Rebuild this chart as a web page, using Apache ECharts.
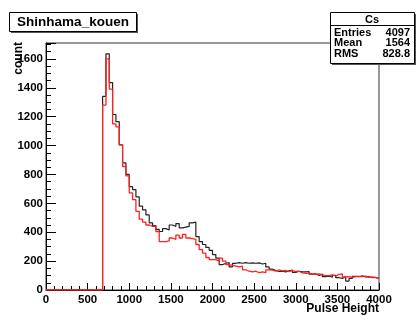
<!DOCTYPE html>
<html>
<head>
<meta charset="utf-8">
<script src="https://cdn.jsdelivr.net/npm/echarts@6.0.0/dist/echarts.min.js"></script>
<style>
  html, body { margin: 0; padding: 0; background: #fff; }
  #chart { width: 417px; height: 315px; }
</style>
</head>
<body>
<div id="chart"></div>
<script>
// histogram: 100 bins of 40 over 0..4000
const binStart = 0;
const binWidth = 40;
const blackCounts = [
    0, 0, 0, 0, 0, 0, 0, 0, 0, 0, 0, 0, 0, 0, 0, 0, 0,
    1340, 1635, 1435, 1215, 1165, 1005, 880, 800, 715, 695,
    645, 580, 555, 520, 465, 445, 420, 405, 425, 415,
    450, 440, 460, 430, 435, 440, 465, 470, 370, 335,
    315, 295, 275, 245, 220, 175, 185, 190, 160, 185,
    190, 185, 190, 185, 188, 185, 188, 180, 185, 160,
    145, 135, 128, 130, 125, 132, 138, 122, 130, 125,
    125, 128, 110, 112, 100, 110, 92, 95, 88, 102,
    85, 80, 92, 62, 80, 95, 92, 98, 90, 92,
    85, 88, 80
];
const redCounts = [
    0, 0, 0, 0, 0, 0, 0, 0, 0, 0, 0, 0, 0, 0, 0, 0, 0,
    1280, 1600, 1390, 1150, 1130, 1005, 855, 790, 672, 625,
    545, 490, 470, 450, 440, 440, 405, 335, 335, 340,
    360, 350, 380, 360, 385, 360, 355, 350, 315, 280,
    255, 225, 210, 210, 200, 220, 200, 175, 170, 165,
    160, 165, 140, 130, 125, 130, 120, 125, 120, 140,
    138, 130, 140, 132, 135, 128, 135, 128, 130, 118,
    115, 116, 112, 108, 112, 104, 100, 100, 105, 95,
    108, 112, 90, 92, 88, 92, 95, 92, 96, 88,
    90, 85, 78
];
const statsTitle = 'Cs';
const statsRows = [['Entries', '4097'], ['Mean', '1564'], ['RMS', '828.8']];

// 把每个bin的左边界和计数变成阶梯线的点
function toSteps(counts) {
    let pts = counts.map((c, i) => [binStart + i * binWidth, c]);
    pts.push([binStart + counts.length * binWidth, counts[counts.length - 1]]);
    return pts;
}

const labelFont = {
    color: '#000', fontWeight: 'bold', fontSize: 11.5, fontFamily: 'Liberation Sans',
    formatter: v => String(v)
};

let myChart = echarts.init(document.getElementById('chart'));
let option = {
    animation: false,
    grid: {
        left: 46, right: 38, top: 43, bottom: 25,
        show: true, borderColor: '#333', borderWidth: 1
    },
    xAxis: {
        type: 'value', min: 0, max: 4000, interval: 500,
        axisLine: { lineStyle: { color: '#000', width: 1 } },
        axisTick: { inside: true, length: 7, lineStyle: { color: '#000' } },
        minorTick: { show: true, splitNumber: 5, length: 4, lineStyle: { color: '#000' } },
        splitLine: { show: false },
        axisLabel: Object.assign({ margin: 4 }, labelFont)
    },
    yAxis: {
        type: 'value', min: 0, max: 1710, interval: 200,
        axisLine: { show: true, lineStyle: { color: '#000', width: 1 } },
        axisTick: { show: true, inside: true, length: 10, lineStyle: { color: '#000' } },
        minorTick: { show: true, splitNumber: 4, length: 5, lineStyle: { color: '#000' } },
        splitLine: { show: false },
        axisLabel: Object.assign({ margin: 3, showMaxLabel: false }, labelFont)
    },
    series: [
        {
            name: 'black', type: 'line', step: 'end', showSymbol: false,
            lineStyle: { color: '#222', width: 1.2 },
            data: toSteps(blackCounts)
        },
        {
            name: 'red', type: 'line', step: 'end', showSymbol: false,
            lineStyle: { color: '#ff2020', width: 1.3 },
            data: toSteps(redCounts)
        }
    ],
    graphic: [
        // 标题框
        { type: 'rect', shape: { x: 11, y: 14, width: 127, height: 19 }, style: { fill: '#555' }, z: 10 },
        { type: 'rect', shape: { x: 9.5, y: 12.5, width: 127, height: 19 }, style: { fill: '#fff', stroke: '#000', lineWidth: 1 }, z: 11 },
        { type: 'text', x: 73, y: 22, z: 12,
          style: { text: 'Shinhama_kouen', fill: '#000', font: 'bold 13.5px "Liberation Sans"', align: 'center', verticalAlign: 'middle' } },
        // 统计框
        { type: 'rect', shape: { x: 332, y: 14, width: 84, height: 51 }, style: { fill: '#555' }, z: 10 },
        { type: 'rect', shape: { x: 330.5, y: 12.5, width: 84, height: 51 }, style: { fill: '#fff', stroke: '#000', lineWidth: 1 }, z: 11 },
        { type: 'line', shape: { x1: 330.5, y1: 25.5, x2: 414.5, y2: 25.5 }, style: { stroke: '#000', lineWidth: 1 }, z: 12 },
        { type: 'text', x: 372, y: 19.5, z: 12,
          style: { text: statsTitle, fill: '#000', font: 'bold 11px "Liberation Sans"', align: 'center', verticalAlign: 'middle' } }
    ].concat(statsRows.flatMap((r, i) => [
        { type: 'text', x: 334, y: 32.5 + i * 10.5, z: 12,
          style: { text: r[0], fill: '#000', font: 'bold 11px "Liberation Sans"', align: 'left', verticalAlign: 'middle' } },
        { type: 'text', x: 410, y: 32.5 + i * 10.5, z: 12,
          style: { text: r[1], fill: '#000', font: 'bold 11px "Liberation Sans"', align: 'right', verticalAlign: 'middle' } }
    ])).concat([
        // 轴标题
        { type: 'text', x: 19, y: 42, rotation: Math.PI / 2, z: 12,
          style: { text: 'count', fill: '#000', font: 'bold 12px "Liberation Sans"', align: 'right', verticalAlign: 'middle' } },
        { type: 'text', x: 379, y: 309, z: 12,
          style: { text: 'Pulse Height', fill: '#000', font: 'bold 12px "Liberation Sans"', align: 'right', verticalAlign: 'middle' } }
    ])
};
option && myChart.setOption(option);
</script>
</body>
</html>
